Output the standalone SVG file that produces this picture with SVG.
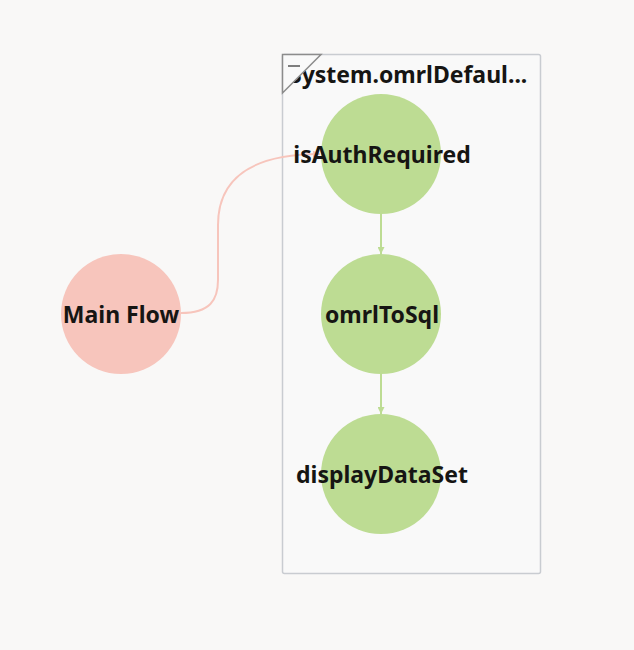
<svg xmlns="http://www.w3.org/2000/svg" width="634" height="650" viewBox="0 0 634 650">
<defs>
<style>
.lbl{font-family:"Noto Sans","Open Sans",sans-serif;font-weight:bold;font-size:23px;fill:#161513;text-anchor:middle}
.green{fill:#bddc93}
.pink{fill:#f7c5bc}
</style>
<marker id="ag" viewBox="0 0 10 10" refX="10" refY="5" markerWidth="7" markerHeight="7" orient="auto" markerUnits="userSpaceOnUse"><path d="M0,0 L10,5 L0,10 z" fill="#bddc93"/></marker>
<marker id="ap" viewBox="0 0 10 10" refX="10" refY="5" markerWidth="7" markerHeight="7" orient="auto" markerUnits="userSpaceOnUse"><path d="M0,0 L10,5 L0,10 z" fill="#f7c5bc"/></marker>
</defs>
<rect width="634" height="650" fill="#f9f8f7"/>
<g id="container">
<rect x="282.5" y="54.5" width="258" height="519" rx="2" fill="#f9f9f9" stroke="#c9ccd1" stroke-width="1.5"/>
<text x="289" y="83" font-family="Noto Sans,Open Sans,sans-serif" font-weight="bold" font-size="23" fill="#161513">System.omrlDefaul...</text>
<path d="M282.5,54.5 L321,54.5 L282.5,93 Z" fill="#f9f9f9" stroke="#8c8c8c" stroke-width="1.5"/>
<line x1="288" y1="66" x2="300" y2="66" stroke="#555" stroke-width="1.5"/>
</g>
<g id="connectors" fill="none" stroke-width="2">
<path d="M181,313 C210,313 218,300 218,280 L218,225 C218,180 250,154 320,154" stroke="#f7c5bc" marker-end="url(#ap)"/>
<path d="M381,214 L381,254" stroke="#bddc93" marker-end="url(#ag)"/>
<path d="M381,374 L381,414" stroke="#bddc93" marker-end="url(#ag)"/>
</g>
<g id="isAuthRequired"><circle cx="381" cy="154" r="60" class="green"/><text x="382" y="163" class="lbl">isAuthRequired</text></g>
<g id="omrlToSql"><circle cx="381" cy="314" r="60" class="green"/><text x="382" y="323" class="lbl">omrlToSql</text></g>
<g id="displayDataSet"><circle cx="381" cy="474" r="60" class="green"/><text x="382" y="483" class="lbl">displayDataSet</text></g>
<g id="mainFlow"><circle cx="121" cy="314" r="60" class="pink"/><text x="121" y="323" class="lbl">Main Flow</text></g>
</svg>
